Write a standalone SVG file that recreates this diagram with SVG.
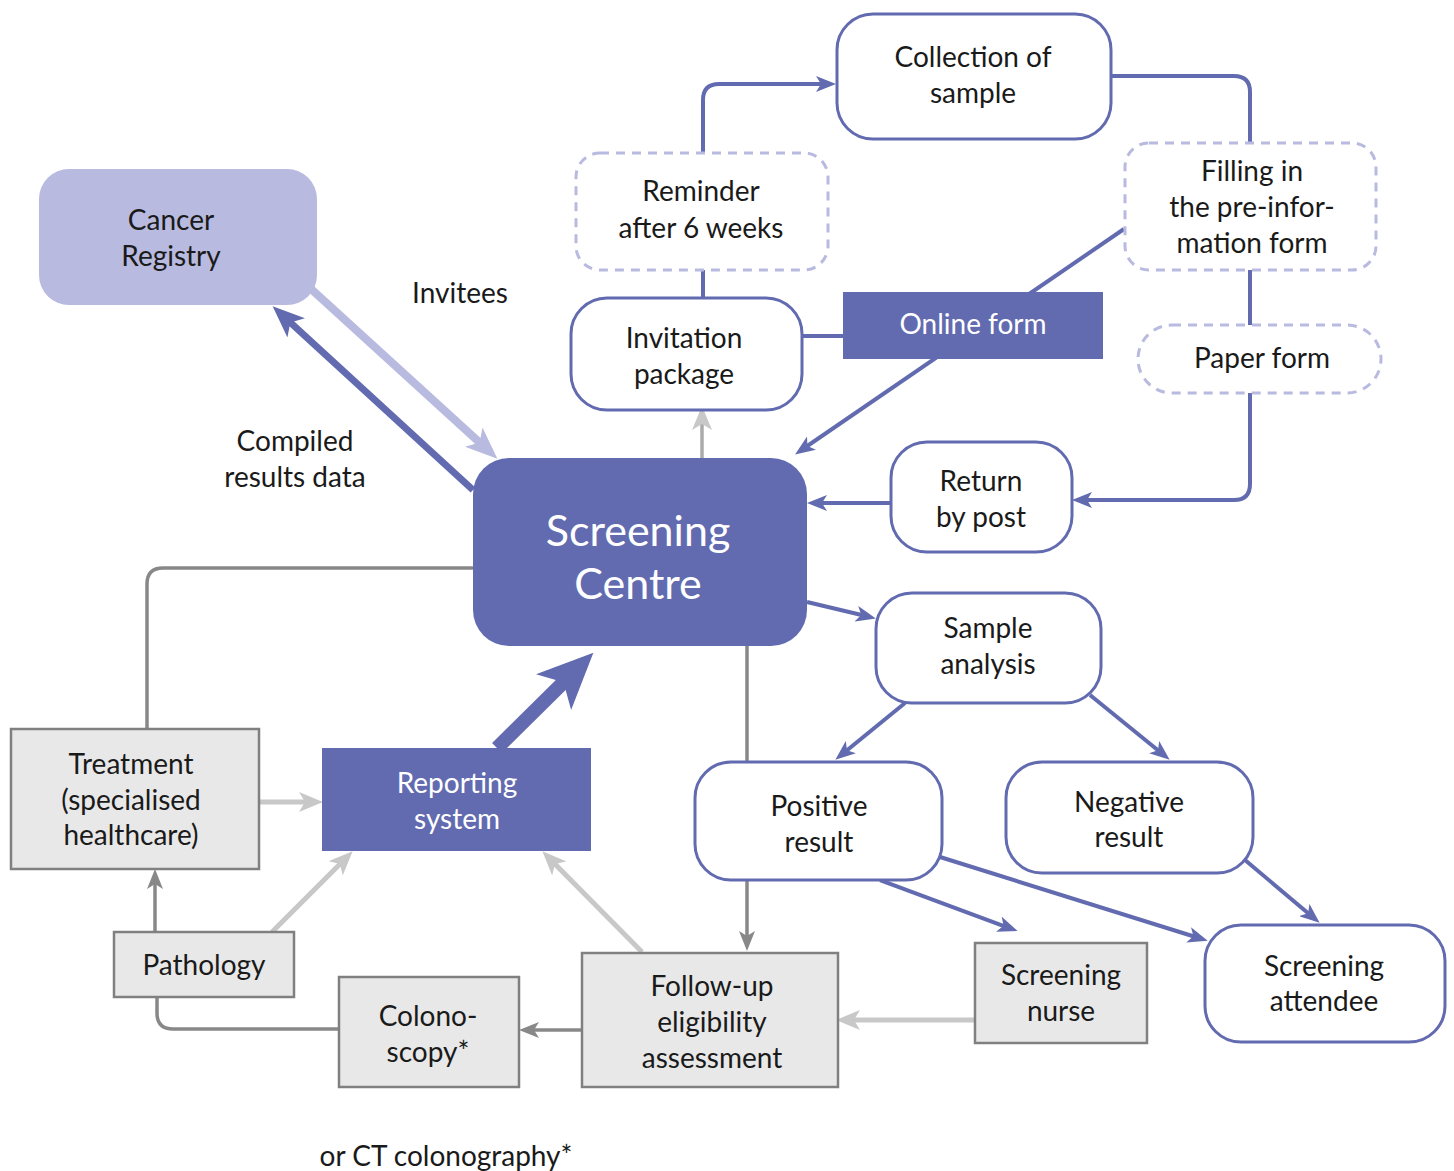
<svg xmlns="http://www.w3.org/2000/svg" width="1454" height="1171" viewBox="0 0 1454 1171">
<style>
text{font-family:Lato,"Open Sans","Liberation Sans",sans-serif;font-size:28px;fill:#1a1a1a;text-anchor:middle}
.w{fill:#ffffff}
.big{font-size:43px}
.nb{fill:#fff;stroke:#626bb0;stroke-width:3}
.nd{fill:#fff;stroke:#b8badf;stroke-width:3;stroke-dasharray:9 7}
.nf{fill:#626bb0}
.ng{fill:#e8e8e8;stroke:#808080;stroke-width:2.5}
.cb{fill:none;stroke:#626bb0;stroke-width:4}
.cg{fill:none;stroke:#888888;stroke-width:3.5}
.cl{fill:none;stroke:#c8c8c8;stroke-width:5}
</style>
<defs>
<marker id="ab" viewBox="0 0 20 16" markerWidth="20" markerHeight="16" refX="14" refY="8" orient="auto" markerUnits="userSpaceOnUse"><path d="M0,0 L20,8 L0,16 L5,8 Z" fill="#626bb0"/></marker>
<marker id="ag" viewBox="0 0 20 16" markerWidth="20" markerHeight="16" refX="14" refY="8" orient="auto" markerUnits="userSpaceOnUse"><path d="M0,0 L20,8 L0,16 L5,8 Z" fill="#888888"/></marker>
<marker id="al" viewBox="0 0 24 20" markerWidth="24" markerHeight="20" refX="16" refY="10" orient="auto" markerUnits="userSpaceOnUse"><path d="M0,0 L24,10 L0,20 L6,10 Z" fill="#c8c8c8"/></marker>
<marker id="alb" viewBox="0 0 32 26" markerWidth="32" markerHeight="26" refX="22" refY="13" orient="auto" markerUnits="userSpaceOnUse"><path d="M0,0 L32,13 L0,26 L8,13 Z" fill="#b8badf"/></marker>
<marker id="abm" viewBox="0 0 32 26" markerWidth="32" markerHeight="26" refX="22" refY="13" orient="auto" markerUnits="userSpaceOnUse"><path d="M0,0 L32,13 L0,26 L8,13 Z" fill="#626bb0"/></marker>
<marker id="abig" viewBox="0 0 56 50" markerWidth="56" markerHeight="50" refX="40" refY="25" orient="auto" markerUnits="userSpaceOnUse"><path d="M0,0 L56,25 L0,50 L14,25 Z" fill="#626bb0"/></marker>
</defs>

<g id="connectors">
<path class="cb" d="M703,152 V100 Q703,84 719,84 H830" marker-end="url(#ab)"/>
<path class="cb" d="M703,270 V298"/>
<path class="cb" d="M1111,76 H1234 Q1250,76 1250,92 V142"/>
<path class="cb" d="M1250,270 V325"/>
<path class="cb" d="M1250,393 V484 Q1250,500 1234,500 H1078" marker-end="url(#ab)"/>
<path class="cb" d="M1124,229 L800,451" marker-end="url(#ab)"/>
<path class="cb" d="M802,336 H843"/>
<path class="cg" d="M702,458 V414" marker-end="url(#al)" style="stroke:#aaaaaa"/>
<path class="cb" d="M890,503 H813" marker-end="url(#ab)"/>
<path class="cb" d="M807,602 L870,617" marker-end="url(#ab)"/>
<path class="cb" d="M905,703 L840,756" marker-end="url(#ab)"/>
<path class="cb" d="M1090,695 L1165,756" marker-end="url(#ab)"/>
<path class="cb" d="M1245,860 L1315,919" marker-end="url(#ab)"/>
<path class="cb" d="M940,857 L1202,939" marker-end="url(#ab)"/>
<path class="cb" d="M880,880 L1012,929" marker-end="url(#ab)"/>
<path class="cg" d="M747,646 V762"/>
<path class="cg" d="M747,880 V945" marker-end="url(#ag)"/>
<path class="cl" d="M975,1020 H844" marker-end="url(#al)"/>
<path class="cg" d="M581,1030 H525" marker-end="url(#ag)"/>
<path class="cg" d="M338,1029 H173 Q157,1029 157,1013 V997"/>
<path class="cg" d="M155,932 V875" marker-end="url(#ag)"/>
<path class="cg" d="M147,728 V584 Q147,568 163,568 H473"/>
<path class="cl" d="M259,802 H315" marker-end="url(#al)"/>
<path class="cl" d="M272,932 L347,857" marker-end="url(#al)"/>
<path class="cl" d="M642,952 L548,857" marker-end="url(#al)"/>
<path d="M497,748 L582,664" fill="none" stroke="#626bb0" stroke-width="14" marker-end="url(#abig)"/>
<path d="M310,288 L490,452" fill="none" stroke="#b8badf" stroke-width="8" marker-end="url(#alb)"/>
<path d="M473,490 L280,313" fill="none" stroke="#626bb0" stroke-width="7" marker-end="url(#abm)"/>
</g>

<g id="collection"><rect class="nb" x="837" y="14" width="274" height="125" rx="36"/><text x="973" y="67">Collection of<tspan x="973" y="103">sample</tspan></text></g>
<g id="reminder"><rect class="nd" x="576" y="153" width="252" height="117" rx="24"/><text x="701" y="201">Reminder<tspan x="701" y="238">after 6 weeks</tspan></text></g>
<g id="filling"><rect class="nd" x="1125" y="143" width="251" height="127" rx="24"/><text x="1252" y="181">Filling in<tspan x="1252" y="217">the pre-infor-</tspan><tspan x="1252" y="253">mation form</tspan></text></g>
<g id="paper"><rect class="nd" x="1138" y="325" width="243" height="68" rx="34"/><text x="1262" y="368">Paper form</text></g>
<g id="invitation"><rect class="nb" x="571" y="298" width="231" height="112" rx="36"/><text x="684" y="348">Invitation<tspan x="684" y="384">package</tspan></text></g>
<g id="online"><rect class="nf" x="843" y="292" width="260" height="67"/><text class="w" x="973" y="334">Online form</text></g>
<g id="registry"><rect x="39" y="169" width="278" height="136" rx="30" fill="#b8badf"/><text x="171" y="230">Cancer<tspan x="171" y="266">Registry</tspan></text></g>
<g id="invitees"><text x="460" y="303">Invitees</text></g>
<g id="compiled"><text x="295" y="451">Compiled<tspan x="295" y="487">results data</tspan></text></g>
<g id="centre"><rect class="nf" x="473" y="458" width="334" height="188" rx="36"/><text class="w big" x="638" y="546">Screening<tspan x="638" y="599">Centre</tspan></text></g>
<g id="returnpost"><rect class="nb" x="891" y="442" width="181" height="110" rx="36"/><text x="981" y="491">Return<tspan x="981" y="527">by post</tspan></text></g>
<g id="sample"><rect class="nb" x="876" y="593" width="225" height="110" rx="36"/><text x="988" y="638">Sample<tspan x="988" y="674">analysis</tspan></text></g>
<g id="positive"><rect class="nb" x="695" y="762" width="247" height="118" rx="36"/><text x="819" y="816">Positive<tspan x="819" y="852">result</tspan></text></g>
<g id="negative"><rect class="nb" x="1006" y="762" width="247" height="111" rx="36"/><text x="1129" y="812">Negative<tspan x="1129" y="847">result</tspan></text></g>
<g id="attendee"><rect class="nb" x="1205" y="925" width="240" height="117" rx="36"/><text x="1324" y="976">Screening<tspan x="1324" y="1011">attendee</tspan></text></g>
<g id="nurse"><rect class="ng" x="975" y="943" width="172" height="100"/><text x="1061" y="985">Screening<tspan x="1061" y="1021">nurse</tspan></text></g>
<g id="followup"><rect class="ng" x="582" y="953" width="256" height="134"/><text x="712" y="996">Follow-up<tspan x="712" y="1032">eligibility</tspan><tspan x="712" y="1068">assessment</tspan></text></g>
<g id="colonoscopy"><rect class="ng" x="339" y="977" width="180" height="110"/><text x="428" y="1026">Colono-<tspan x="428" y="1062">scopy*</tspan></text></g>
<g id="pathology"><rect class="ng" x="114" y="932" width="180" height="65"/><text x="204" y="975">Pathology</text></g>
<g id="treatment"><rect class="ng" x="11" y="729" width="248" height="140"/><text x="131" y="774">Treatment<tspan x="131" y="810">(specialised</tspan><tspan x="131" y="845">healthcare)</tspan></text></g>
<g id="reporting"><rect class="nf" x="322" y="748" width="269" height="103"/><text class="w" x="457" y="793">Reporting<tspan x="457" y="829">system</tspan></text></g>
<g id="footnote"><text x="446" y="1166">or CT colonography*</text></g>
</svg>
